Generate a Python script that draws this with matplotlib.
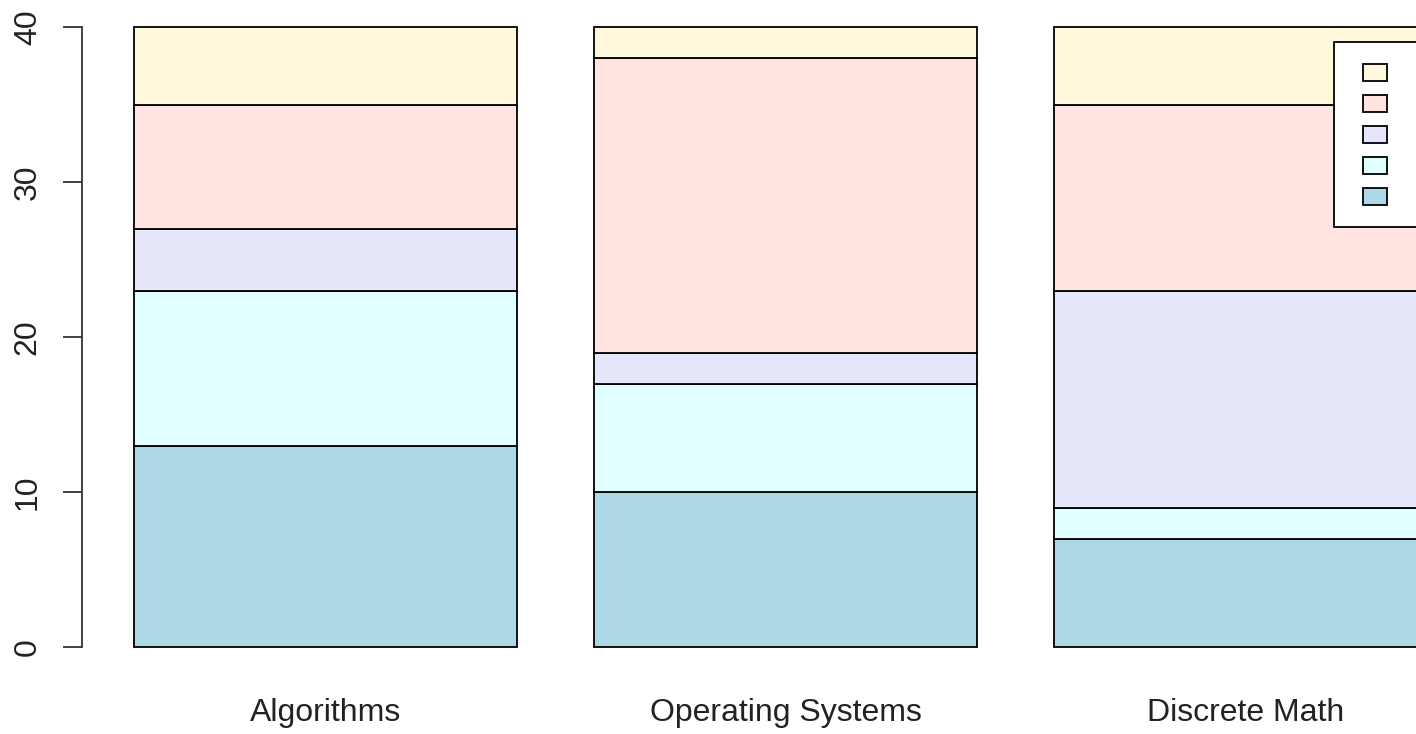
import matplotlib as mpl
import matplotlib.pyplot as plt
from matplotlib.patches import Rectangle

mpl.use('Agg')
plt.rcParams['font.family'] = ['Liberation Sans', 'DejaVu Sans']

courses = ["Algorithms", "Operating Systems", "Discrete Math"]
# stacked from bottom to top
series_vals = [
    [13, 10, 7],
    [10, 7, 2],
    [4, 2, 14],
    [8, 19, 12],
    [5, 2, 5],
]
colors = ["#ADD8E6", "#E0FFFF", "#E6E6FA", "#FFE4E1", "#FFF8DC"]

W, H = 1416, 734
fig = plt.figure(figsize=(W / 100, H / 100), dpi=100)
ax = fig.add_axes([82 / W, 87 / H, (W - 82) / W, 620 / H])

centers = [0.7, 1.9, 3.1]
bottom = [0, 0, 0]
for vals, col in zip(series_vals, colors):
    ax.bar(centers, vals, width=1, bottom=bottom, color=col,
           edgecolor='black', linewidth=1.3, clip_on=False)
    bottom = [b + v for b, v in zip(bottom, vals)]

ax.set_xlim(0.063, 3.546)
ax.set_ylim(0, 40)
for s in ['top', 'right', 'bottom']:
    ax.spines[s].set_visible(False)
ax.spines['left'].set_bounds(0, 40)
ax.spines['left'].set_color('#333333')
ax.spines['left'].set_linewidth(1.3)

ax.set_yticks([0, 10, 20, 30, 40])
ax.tick_params(axis='y', length=13.7, width=1.3, color='#333333', pad=14.5,
               labelsize=23, labelcolor='#222222')
for lab in ax.get_yticklabels():
    lab.set_rotation(90)
    lab.set_va('center')

ax.set_xticks(centers)
ax.set_xticklabels(courses)
ax.tick_params(axis='x', length=0, pad=37, labelsize=23, labelcolor='#222222')

# legend box (cut off at the right edge as in the original)
def fx(x):
    return x / W

def fy(y):
    return (H - y) / H

fig.patches.append(Rectangle((fx(1334), fy(227)), fx(200), (227 - 42) / H,
                             transform=fig.transFigure, facecolor='white',
                             edgecolor='black', linewidth=1.3))
ys = [72, 103, 134, 165, 196]
for col, yc in zip(colors[::-1], ys):
    fig.patches.append(Rectangle((fx(1363), fy(yc + 8.5)), fx(24), 17 / H,
                                 transform=fig.transFigure, facecolor=col,
                                 edgecolor='black', linewidth=1.3))

plt.savefig("out.png", dpi=100)
